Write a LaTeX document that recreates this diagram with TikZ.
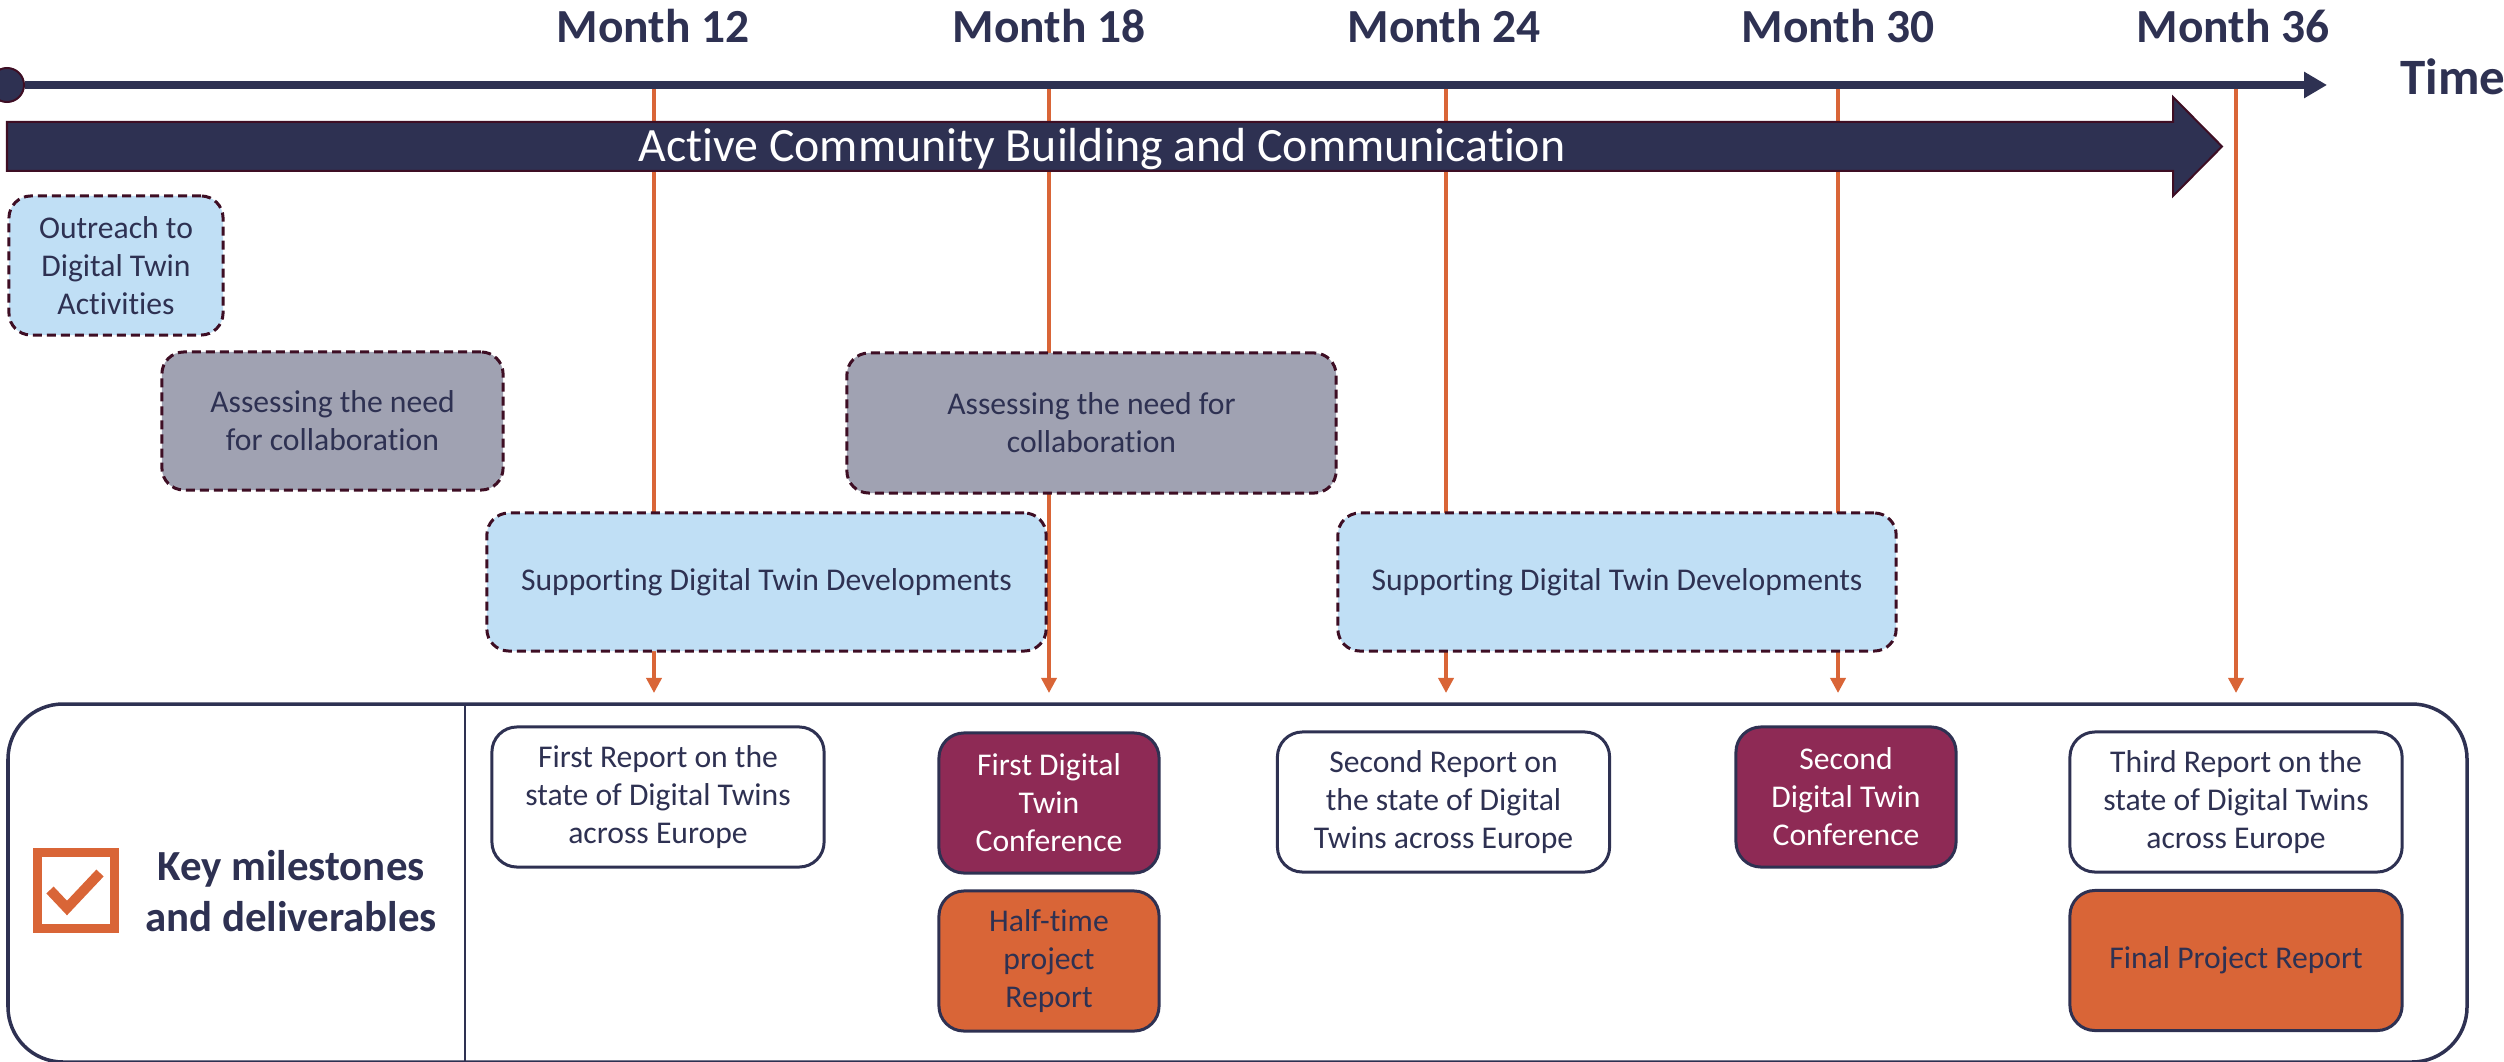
\documentclass[tikz,border=0pt]{standalone}
\usepackage{fontspec}
\setmainfont{Carlito}[RawFeature={-liga;-clig;-dlig;-calt;-rlig;-ccmp}]
\usetikzlibrary{arrows.meta}

\definecolor{navy}{RGB}{46,49,82}
\definecolor{darkrim}{RGB}{62,14,36}
\definecolor{skyfill}{RGB}{192,223,245}
\definecolor{greyfill}{RGB}{160,162,178}
\definecolor{plum}{RGB}{142,42,85}
\definecolor{rust}{RGB}{217,101,55}

\tikzset{
	phase/.style={draw=darkrim, line width=0.03cm, dash pattern=on 0.09cm off 0.05cm,
		rounded corners=0.22cm, align=center, text=navy, inner sep=0pt,
		font=\fontsize{9}{10.8}\selectfont},
	outreach/.style={phase, fill=skyfill},
	assess/.style={phase, fill=greyfill},
	deliv/.style={draw=navy, line width=0.03cm, rounded corners=0.25cm, fill=white,
		align=center, text=navy, inner sep=0pt, minimum width=3.32cm, minimum height=1.4cm,
		font=\fontsize{9}{10.8}\selectfont},
	conf/.style={deliv, fill=plum, text=white, minimum width=2.2cm},
	finalrep/.style={deliv, fill=rust},
	monthlbl/.style={text=navy, anchor=base, font=\fontsize{13.5}{15}\selectfont\bfseries},
	tick/.style={rust, line width=0.035cm, -{Triangle[length=0.15cm,width=0.15cm]}}
}

\begin{document}
\begin{tikzpicture}[x=0.01cm, y=-0.01cm]
	%%%%% START %%%%%
	\useasboundingbox (0,0) rectangle (2504,1061);
	
	% month ticks
	\coordinate (m12top) at (654,89);   \coordinate (m12bot) at (654,693);
	\coordinate (m18top) at (1049,89);  \coordinate (m18bot) at (1049,693);
	\coordinate (m24top) at (1446,89);  \coordinate (m24bot) at (1446,693);
	\coordinate (m30top) at (1838,89);  \coordinate (m30bot) at (1838,693);
	\coordinate (m36top) at (2236,89);  \coordinate (m36bot) at (2236,693);
	\draw[tick] (m12top) -- (m12bot);
	\draw[tick] (m18top) -- (m18bot);
	\draw[tick] (m24top) -- (m24bot);
	\draw[tick] (m30top) -- (m30bot);
	\draw[tick] (m36top) -- (m36bot);
	
	\node[monthlbl] (m12) at (653,43) {Month 12};
	\node[monthlbl] (m18) at (1049,43) {Month 18};
	\node[monthlbl] (m24) at (1444,43) {Month 24};
	\node[monthlbl] (m30) at (1838,43) {Month 30};
	\node[monthlbl] (m36) at (2233,43) {Month 36};
	
	% time axis
	\node[circle, fill=navy, draw=darkrim, line width=0.02cm, minimum size=0.34cm, inner sep=0pt] (start) at (7,85) {};
	\coordinate (tend) at (2327,85);
	\draw[navy, line width=0.08cm, -{Triangle[length=0.23cm,width=0.25cm]}] (start) -- (tend);
	\node[text=navy, anchor=base west, font=\fontsize{14.5}{16}\selectfont\bfseries] (timelbl) at (2388,95) {Time};
	
	% community arrow
	\draw[fill=navy, draw=darkrim, line width=0.02cm] (7,122) -- (2173,122) -- (2173,97) -- (2222,146.5)
		-- (2173,196) -- (2173,171) -- (7,171) -- cycle;
	\node[text=white, anchor=base, font=\fontsize{13.6}{15}\selectfont] (active) at (1102,162) {Active Community Building and Communication};
	
	% activities
	\node[outreach, minimum width=2.14cm, minimum height=1.39cm] (outreach) at (116,265.5) {Outreach to\\Digital Twin\\Activities};
	\node[assess, minimum width=3.41cm, minimum height=1.38cm] (assessA) at (332.5,421) {Assessing the need\\for collaboration};
	\node[assess, minimum width=4.89cm, minimum height=1.4cm] (assessB) at (1091.5,423) {Assessing the need for\\collaboration};
	\node[outreach, minimum width=5.59cm, minimum height=1.38cm] (supportA) at (766.5,582) {Supporting Digital Twin Developments};
	\node[outreach, minimum width=5.58cm, minimum height=1.38cm] (supportB) at (1617,582) {Supporting Digital Twin Developments};
	
	% milestones panel
	\draw[navy, line width=0.035cm, rounded corners=0.55cm] (8,704) rectangle (2467,1062);
	\draw[navy, line width=0.02cm] (465,704) -- (465,1062);
	\draw[rust, line width=0.09cm] (37.5,852.5) rectangle (114.5,928.5);
	\draw[rust, line width=0.1cm] (50,890) -- (67,908) -- (100,873);
	\node[text=navy, align=center, font=\fontsize{12.2}{14.7}\selectfont\bfseries] (keylbl) at (291,891) {Key milestones\\and deliverables};
	
	\node[deliv] (rep1) at (658,797) {First Report on the\\state of Digital Twins\\across Europe};
	\node[conf] (conf1) at (1049,803) {First Digital\\Twin\\Conference};
	\node[finalrep, minimum width=2.2cm] (half) at (1049,961) {Half-time\\project\\Report};
	\node[deliv] (rep2) at (1443.5,802) {Second Report on\\the state of Digital\\Twins across Europe};
	\node[conf] (conf2) at (1846,797) {Second\\Digital Twin\\Conference};
	\node[deliv] (rep3) at (2236,802) {Third Report on the\\state of Digital Twins\\across Europe};
	\node[finalrep] (final) at (2236,960.5) {Final Project Report};
	%%%%% END %%%%%
\end{tikzpicture}
\end{document}
